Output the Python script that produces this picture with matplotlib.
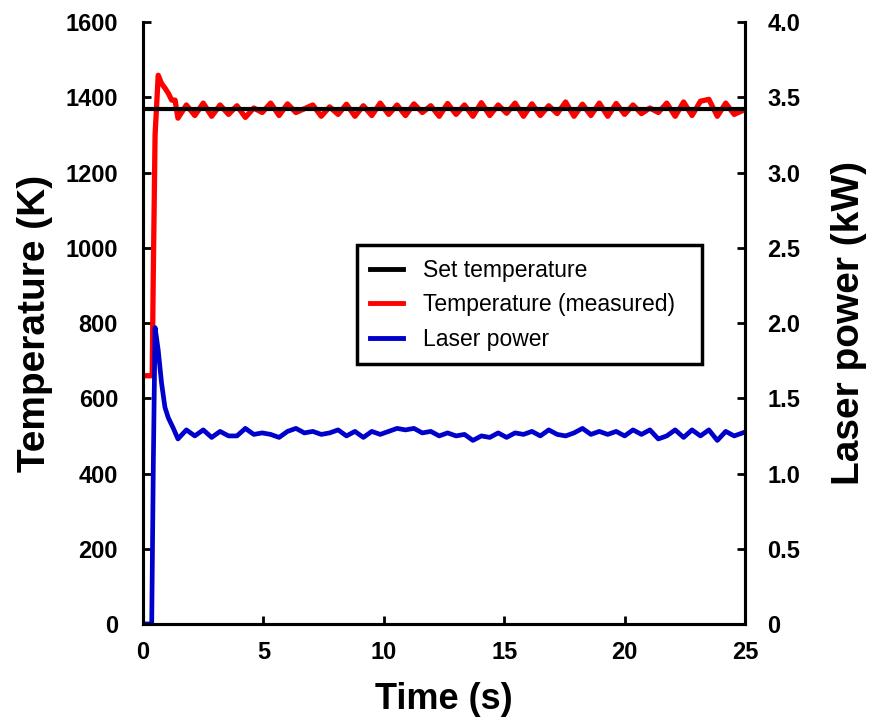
import numpy as np
import matplotlib.pyplot as plt

plt.rcParams['font.family'] = ['Liberation Sans', 'DejaVu Sans']
plt.rcParams['font.weight'] = 'bold'

# set point
set_temp = 1370

# start-up transient (time in s)
t_temp_start = [0, 0.38, 0.42, 0.5, 0.63, 0.77, 0.91, 1.05, 1.19, 1.33]
temp_start = [660, 660, 900, 1300, 1459, 1437, 1425, 1411, 1393, 1393]

t_power_start = [0, 0.36, 0.43, 0.5, 0.63, 0.77, 0.91, 1.05, 1.26]
power_start = [0, 0, 1.1, 1.97, 1.82, 1.60, 1.44, 1.37, 1.30]

# oscillating part, sampled every 0.35 s from 1.45 s
t_steady = np.arange(1.45, 25.0, 0.35)
temp_steady = [1345, 1380, 1352, 1385, 1350, 1380, 1355, 1378, 1347, 1372,
               1360, 1385, 1352, 1383, 1360, 1370, 1380, 1350, 1375, 1355,
               1382, 1350, 1378, 1352, 1385, 1355, 1380, 1352, 1383, 1360,
               1378, 1350, 1384, 1355, 1380, 1350, 1386, 1352, 1380, 1358,
               1385, 1350, 1383, 1352, 1378, 1357, 1388, 1350, 1382, 1352,
               1385, 1350, 1384, 1355, 1380, 1357, 1372, 1360, 1385, 1350,
               1388, 1352, 1390, 1395, 1350, 1385, 1355, 1365]
power_steady = [1.23, 1.29, 1.25, 1.29, 1.24, 1.28, 1.25, 1.25, 1.30, 1.26,
                1.27, 1.26, 1.24, 1.28, 1.30, 1.27, 1.28, 1.26, 1.27, 1.29,
                1.25, 1.28, 1.24, 1.28, 1.26, 1.28, 1.30, 1.29, 1.30, 1.27,
                1.28, 1.25, 1.27, 1.25, 1.26, 1.22, 1.25, 1.24, 1.27, 1.24,
                1.27, 1.26, 1.28, 1.25, 1.29, 1.26, 1.25, 1.27, 1.30, 1.26,
                1.28, 1.26, 1.28, 1.25, 1.29, 1.26, 1.29, 1.23, 1.25, 1.29,
                1.24, 1.29, 1.25, 1.29, 1.22, 1.28, 1.25, 1.27]

t_temp = np.concatenate([t_temp_start, t_steady])
temp = np.concatenate([temp_start, temp_steady])
t_power = np.concatenate([t_power_start, t_steady])
power = np.concatenate([power_start, power_steady])

fig = plt.figure(figsize=(8.69, 7.18), dpi=100)
ax = fig.add_axes([0.1646, 0.131, 0.6927, 0.838])
ax2 = ax.twinx()

l_red, = ax.plot(t_temp, temp, color='#ff0000', lw=3.8, label='Temperature (measured)', zorder=2)
l_set = ax.axhline(set_temp, color='black', lw=3, label='Set temperature', zorder=3)
l_blue, = ax2.plot(t_power, power, color='#0000cc', lw=3.4, label='Laser power')

ax.set_xlim(0, 25)
ax.set_ylim(0, 1600)
ax2.set_ylim(0, 4)
ax.set_xticks(range(0, 26, 5))
ax.set_yticks(range(0, 1601, 200))
ax2.set_yticks(np.arange(0, 4.01, 0.5))
ax2.set_yticklabels(['0', '0.5', '1.0', '1.5', '2.0', '2.5', '3.0', '3.5', '4.0'])

for a in (ax, ax2):
    for s in a.spines.values():
        s.set_linewidth(2.2)
ax.spines['top'].set_visible(False)
ax2.spines['top'].set_visible(False)

ax.tick_params(axis='x', direction='in', length=6, width=2, labelsize=17, pad=12)
ax.tick_params(axis='y', direction='in', length=6, width=2, labelsize=17, pad=18)
ax2.tick_params(axis='y', direction='in', length=6, width=2, labelsize=17, pad=16)

ax.set_xlabel('Time (s)', fontsize=26, fontweight='bold', labelpad=13)
ax.set_ylabel('Temperature (K)', fontsize=28, fontweight='bold', labelpad=9)
ax2.set_ylabel('Laser power (kW)', fontsize=28, fontweight='bold', labelpad=22)

leg = ax2.legend([l_set, l_red, l_blue],
                 ['Set temperature', 'Temperature (measured)', 'Laser power'],
                 loc='upper left', bbox_to_anchor=(0.355, 0.63, 0.573, 0.0),
                 mode='expand', borderaxespad=0, frameon=True, fancybox=False,
                 handlelength=1.4, handletextpad=0.9, labelspacing=0.5,
                 borderpad=0.6, prop={'weight': 'normal', 'size': 16.5})
leg.get_frame().set_edgecolor('black')
leg.get_frame().set_linewidth(2.5)
leg.get_frame().set_alpha(1)
for h in leg.get_lines():
    h.set_linewidth(3.5)

fig.savefig('out.png', dpi=100)
